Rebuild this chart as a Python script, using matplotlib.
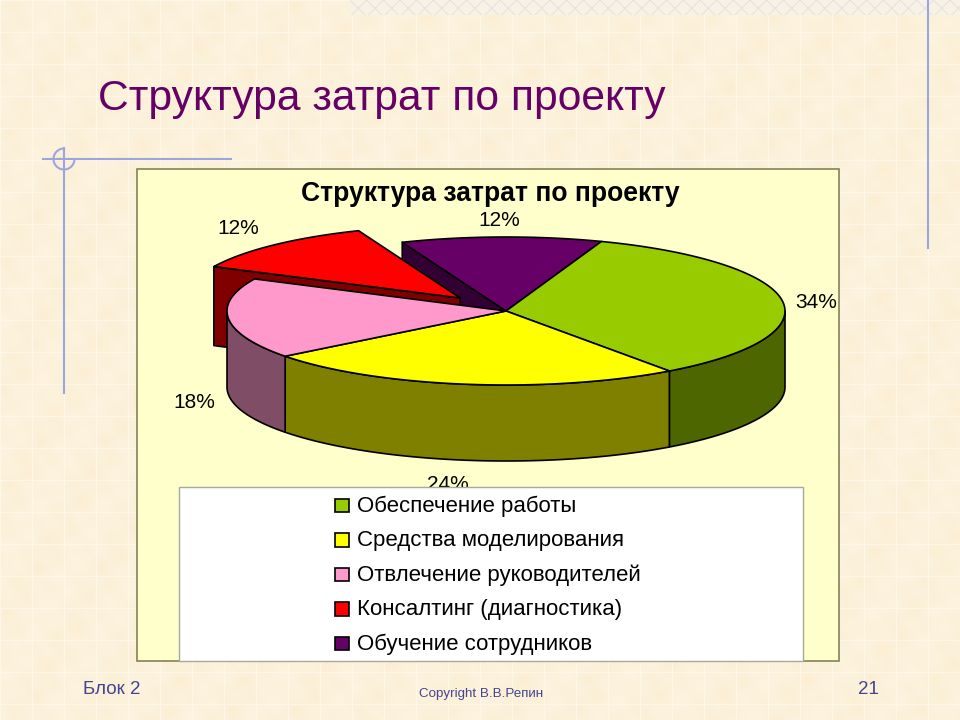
import numpy as np
import matplotlib
matplotlib.use('Agg')
import matplotlib.pyplot as plt
from matplotlib.patches import Polygon, Rectangle

plt.rcParams['font.family'] = ['Liberation Sans', 'DejaVu Sans']
plt.rcParams['hatch.linewidth'] = 0.8

# chart data
categories = ['Обеспечение работы', 'Средства моделирования', 'Отвлечение руководителей',
              'Консалтинг (диагностика)', 'Обучение сотрудников']
shares = [34.49, 24.49, 17.6, 11.8, 11.62]
top_colors = ['#99CC00', '#FFFF00', '#FF99CC', '#FF0000', '#660066']
side_colors = ['#4D6600', '#808000', '#804D66', '#800000', '#330033']
title = 'Структура затрат по проекту'

# pie geometry, in pixels
cx, cy, rx, ry, depth = 506, 311, 279, 74, 76
cut_depth = 79
start_angle = 70
explode = [0, 0, 0, 0.24, 0]
radius_scale = [1, 1, 1, 0.98, 1]
label_xy = [(816, 302), (448, 485), (194, 402), (238, 229), (499, 221)]

fig = plt.figure(figsize=(9.6, 7.2), dpi=100)
ax = fig.add_axes([0, 0, 1, 1])
ax.set_xlim(0, 960)
ax.set_ylim(720, 0)
ax.axis('off')

# slide background, soft mottling from a few sines
yy, xx = np.mgrid[0:720:4, 0:960:4]
mottle = (np.sin(xx / 11.0 + yy / 19.0) + np.sin(xx / 5.0 - yy / 7.0) * 0.7
          + np.sin(yy / 4.0 + xx / 9.0) * 0.5)
base = np.array([252, 241, 218]) / 255
tan = np.array([-0.5, -1.2, -2.5]) / 255
texture = np.clip(base + mottle[..., None] * tan, 0, 1)
ax.imshow(texture, extent=[0, 960, 720, 0], aspect='auto', interpolation='bilinear', zorder=0)
ax.set_xlim(0, 960)
ax.set_ylim(720, 0)
for gx in range(0, 960, 32):
    ax.plot([gx, gx], [0, 720], color='#FEF6E6', lw=1.0, zorder=0.5)
for gy in range(0, 720, 32):
    ax.plot([0, 960], [gy, gy], color='#FEF6E6', lw=1.0, zorder=0.5)
ax.add_patch(Rectangle((350, 0), 610, 15, fc='#F8F2E6', ec='#E6E2DE', hatch='xx', lw=0, zorder=0.6))

# slide decoration lines
line_col = '#9CA6DE'
ax.plot([43, 231], [159, 159], color=line_col, lw=1.5, zorder=1)
ax.plot([64, 64], [148, 393], color=line_col, lw=1.5, zorder=1)
ax.plot([928, 928], [0, 248], color=line_col, lw=1.5, zorder=1)
arc = np.radians(np.linspace(90, 360, 60))
ax.plot(64 + 10.5 * np.cos(arc), 159 - 10.5 * np.sin(arc), color=line_col, lw=1.5, zorder=1)

ax.text(98, 110, title, fontsize=30.7, color='#660066', va='baseline', ha='left', zorder=2)

# chart area and legend box
ax.add_patch(Rectangle((136.5, 168.5), 702, 492, fc='#FFFFCC', ec='#85805A', lw=1.2, zorder=2))
ax.text(490.5, 201, title, fontsize=19.1, fontweight='bold', color='black', ha='center', va='baseline', zorder=3)


def rim(t0, t1, ox=0, oy=0, scale=1, n=80):
    t = np.radians(np.linspace(t0, t1, n))
    return np.column_stack([cx + ox + scale * rx * np.cos(t), cy + oy - scale * ry * np.sin(t)])


def draw(pts, color, z):
    ax.add_patch(Polygon(pts, closed=True, fc=color, ec='black', lw=1.2, joinstyle='round', zorder=z))


# slices run clockwise from start_angle
angles = start_angle - np.cumsum([0] + shares) * 3.6
mids = (angles[:-1] + angles[1:]) / 2
offsets = [(rx * e * np.cos(np.radians(m)), -ry * e * np.sin(np.radians(m))) for e, m in zip(explode, mids)]

# back to front: purple and red cut faces first, the front rim last
for i in [4, 3]:
    ox, oy = offsets[i]
    edge = rim(angles[i], angles[i], ox, oy, radius_scale[i], 2)[0]
    c = np.array([cx + ox, cy + oy])
    d = np.array([0, cut_depth])
    draw([edge, c, c + d, edge + d], side_colors[i], 4 + (4 - i) * 0.1)
for i in [4, 3]:
    ox, oy = offsets[i]
    arc_pts = rim(angles[i], angles[i + 1], ox, oy, radius_scale[i])
    draw(np.vstack([[cx + ox, cy + oy], arc_pts]), top_colors[i], 4.5 + (4 - i) * 0.1)

# visible outer walls, only where the rim faces the viewer (180..360 degrees)
for i in [0, 1, 2]:
    hi = min(angles[i], 0)
    lo = max(angles[i + 1], -180)
    if hi <= lo:
        continue
    top = rim(hi, lo)
    bottom = top[::-1] + np.array([0, depth])
    draw(np.vstack([top, bottom]), side_colors[i], 5)
for i in [0, 1, 2]:
    arc_pts = rim(angles[i], angles[i + 1])
    draw(np.vstack([[cx, cy], arc_pts]), top_colors[i], 5.5)

for s, (lx, ly) in zip(shares, label_xy):
    ax.text(lx, ly, f'{s:.0f}%', fontsize=15, color='black', ha='center', va='center', zorder=6)

# legend
ax.add_patch(Rectangle((178.5, 486.5), 624, 174, fc='white', ec='#A8A8A0', lw=1, zorder=7))
for i, name in enumerate(categories):
    ly = 505 + i * 34.5
    ax.add_patch(Rectangle((335, ly - 6.5), 13.5, 13.5, fc=top_colors[i], ec='black', lw=1.2, zorder=8))
    ax.text(357, ly + 1, name, fontsize=16, color='black', ha='left', va='center', zorder=8)

# footer
foot_col = '#45458F'
ax.text(83, 694, 'Блок 2', fontsize=13.5, color=foot_col, zorder=2)
ax.text(419, 697, 'Copyright В.В.Репин', fontsize=9.6, color=foot_col, zorder=2)
ax.text(858, 694, '21', fontsize=13.5, color=foot_col, zorder=2)

fig.savefig('out.png', dpi=100)
